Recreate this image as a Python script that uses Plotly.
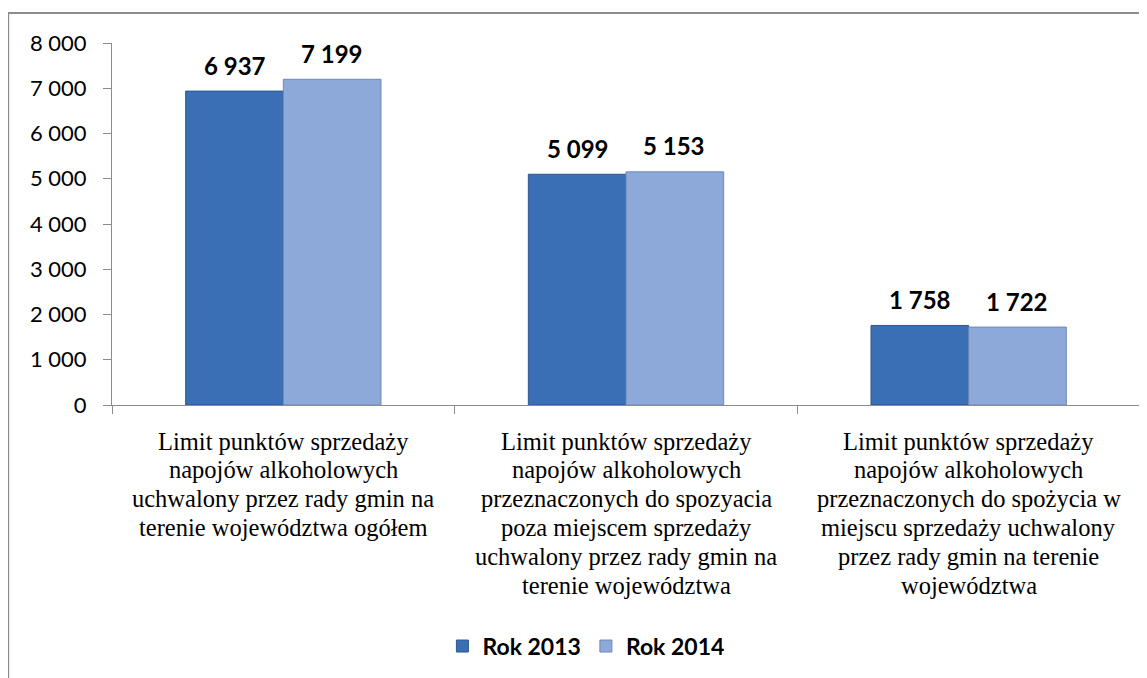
import plotly.graph_objects as go

categories = ["Ogółem", "Poza miejscem sprzedaży", "W miejscu sprzedaży"]
category_labels = [
    ["Limit punktów sprzedaży", "napojów alkoholowych", "uchwalony przez rady gmin na",
     "terenie województwa ogółem"],
    ["Limit punktów sprzedaży", "napojów alkoholowych", "przeznaczonych do spozyacia",
     "poza miejscem sprzedaży", "uchwalony przez rady gmin na", "terenie województwa"],
    ["Limit punktów sprzedaży", "napojów alkoholowych", "przeznaczonych do spożycia w",
     "miejscu sprzedaży uchwalony", "przez rady gmin na terenie", "województwa"],
]
rok_2013 = [6937, 5099, 1758]
rok_2014 = [7199, 5153, 1722]
series_names = ["Rok 2013", "Rok 2014"]

SANS = "Lato, 'Open Sans', sans-serif"
SERIF = "'Liberation Serif', 'Times New Roman', serif"
BARGAP = 0.43
CAT_PX = 340.0
BAR_PX = CAT_PX * (1 - BARGAP) / 2


def fmt(v):
    return f"{v:,}".replace(",", " ")


fig = go.Figure()
fig.add_trace(go.Bar(
    name=series_names[0], x=categories, y=rok_2013,
    marker=dict(color="#3a6fb5", line=dict(color="#2d5791", width=1)),
))
fig.add_trace(go.Bar(
    name=series_names[1], x=categories, y=rok_2014,
    marker=dict(color="#8da9d9", line=dict(color="#6f88b5", width=1)),
))

annotations = []
for series, sign in ((rok_2013, -1), (rok_2014, 1)):
    for cat, v in zip(categories, series):
        annotations.append(dict(
            x=cat, y=v, xref="x", yref="y", text=fmt(v), showarrow=False,
            xshift=sign * BAR_PX / 2, yshift=26, yanchor="middle",
            font=dict(family=SANS, size=24, color="black", weight="bold"),
        ))
for cat, lines in zip(categories, category_labels):
    for i, line in enumerate(lines):
        annotations.append(dict(
            x=cat, y=0, xref="x", yref="paper", text=line, showarrow=False,
            yshift=-(36 + 28.8 * i), yanchor="middle",
            font=dict(family=SERIF, size=24.5, color="black"),
        ))

fig.update_layout(
    width=1139, height=670,
    margin=dict(l=104, r=7, t=35, b=273),
    paper_bgcolor="white", plot_bgcolor="white",
    barmode="group", bargap=BARGAP, bargroupgap=0,
    separators=", ",
    showlegend=True,
    legend=dict(orientation="h", x=0.461, xanchor="center", y=-0.666, yanchor="middle",
                font=dict(family=SANS, size=23, color="black", weight="bold"),
                itemwidth=30, traceorder="normal"),
    yaxis=dict(range=[0, 8000], dtick=1000, tickformat=",d", showgrid=False,
               showline=True, linecolor="#8c8c8c", linewidth=1,
               ticks="outside", ticklen=8, tickcolor="#8c8c8c", ticklabelstandoff=12,
               tickfont=dict(family=SANS, size=22, color="black")),
    xaxis=dict(showgrid=False, showline=True, linecolor="#8c8c8c", linewidth=1,
               ticks="outside", ticklen=8, tickcolor="#8c8c8c", tickson="boundaries",
               showticklabels=False),
    annotations=annotations,
    shapes=[dict(type="path", xref="paper", yref="paper",
                 path="M -0.101,-0.76 L -0.101,1.083 L 1.2,1.083",
                 line=dict(color="#8c8c8c", width=2))],
)

fig.write_html("out.html")
